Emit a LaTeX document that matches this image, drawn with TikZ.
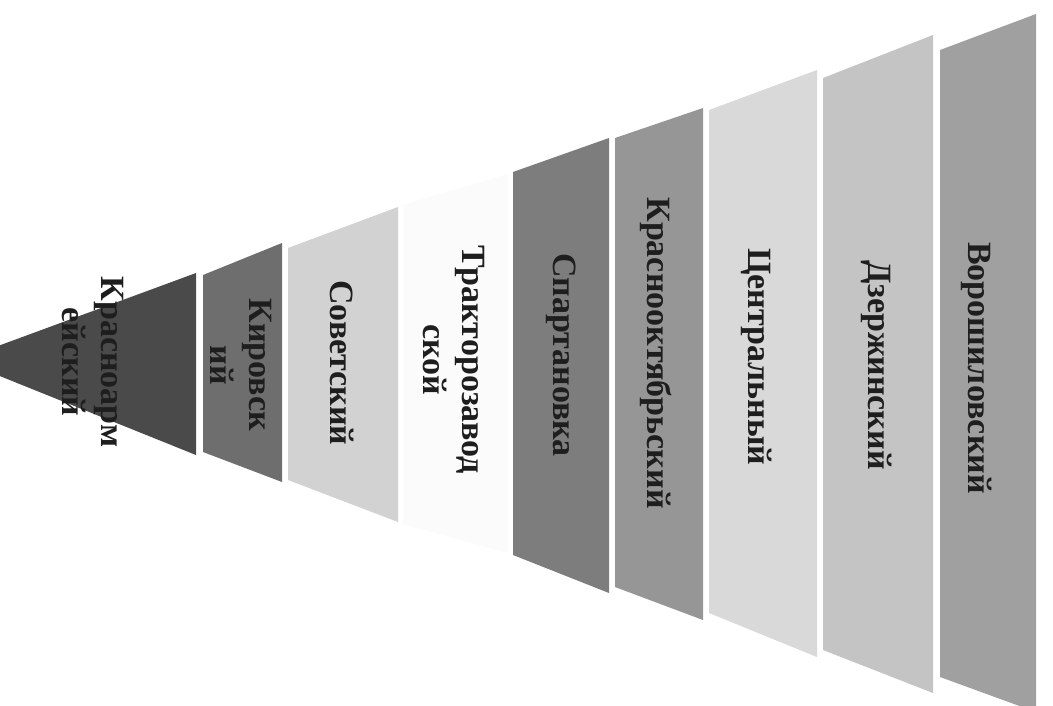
\documentclass[tikz,border=0pt]{standalone}
\usepackage{fontspec}
\setmainfont{Liberation Serif}
\usetikzlibrary{positioning}
\definecolor{Krm}{HTML}{4A4A4A}
\definecolor{Kir}{HTML}{6E6E6E}
\definecolor{Sov}{HTML}{D2D2D2}
\definecolor{Trk}{HTML}{FBFBFB}
\definecolor{Spt}{HTML}{7D7D7D}
\definecolor{Kok}{HTML}{969696}
\definecolor{Cen}{HTML}{D9D9D9}
\definecolor{Dzr}{HTML}{C4C4C4}
\definecolor{Vor}{HTML}{A0A0A0}
\definecolor{ink}{HTML}{1E1E1E}
\tikzset{
  lbl/.style={rotate=-90, align=center, inner sep=0pt, text=ink,
    font=\bfseries\fontsize{34}{39}\selectfont},
}
\newcommand{\slab}[7]{% x0, top0, bottom0, x1, top1, bottom1, colour
  \fill[#7] (#1,#2) -- (#4,#5) -- (#4,#6) -- (#1,#3) -- cycle;}

\begin{document}
\begin{tikzpicture}[x=1pt, y=-1pt]
  \useasboundingbox (0,0) rectangle (1053,705);
  \fill[white] (0,0) rectangle (1053,705);
  \fill[Krm] (-40,360) -- (196,273) -- (196,455) -- cycle;
  \slab{203}{275}{452}{282}{243}{482}{Kir}
  \slab{288}{248}{480}{398}{207}{522}{Sov}
  \slab{403}{205}{524}{508}{174}{553}{Trk}
  \slab{513}{172}{555}{609}{138}{593}{Spt}
  \slab{615}{138}{587}{703}{108}{620}{Kok}
  \slab{709}{110}{613}{817}{70}{657}{Cen}
  \slab{823}{78}{650}{933}{35}{693}{Dzr}
  \slab{940}{50}{677}{1036}{14}{712}{Vor}
  \node[lbl] (kra) at (93,362) {Красноарм\\ейский};
  \node[lbl] (kir) at (241,365) {Кировск\\ий};
  \node[lbl] (sov) at (342,363) {Советский};
  \node[lbl] (trk) at (454,360) {Тракторозавод\\ской};
  \node[lbl] (spt) at (561,355) {Спартановка};
  \node[lbl] (kok) at (656,353) {Краснооктябрьский};
  \node[lbl] (cen) at (757,357) {Центральный};
  \node[lbl] (dzr) at (877,365) {Дзержинский};
  \node[lbl] (vor) at (977,368) {Ворошиловский};
\end{tikzpicture}
\end{document}
